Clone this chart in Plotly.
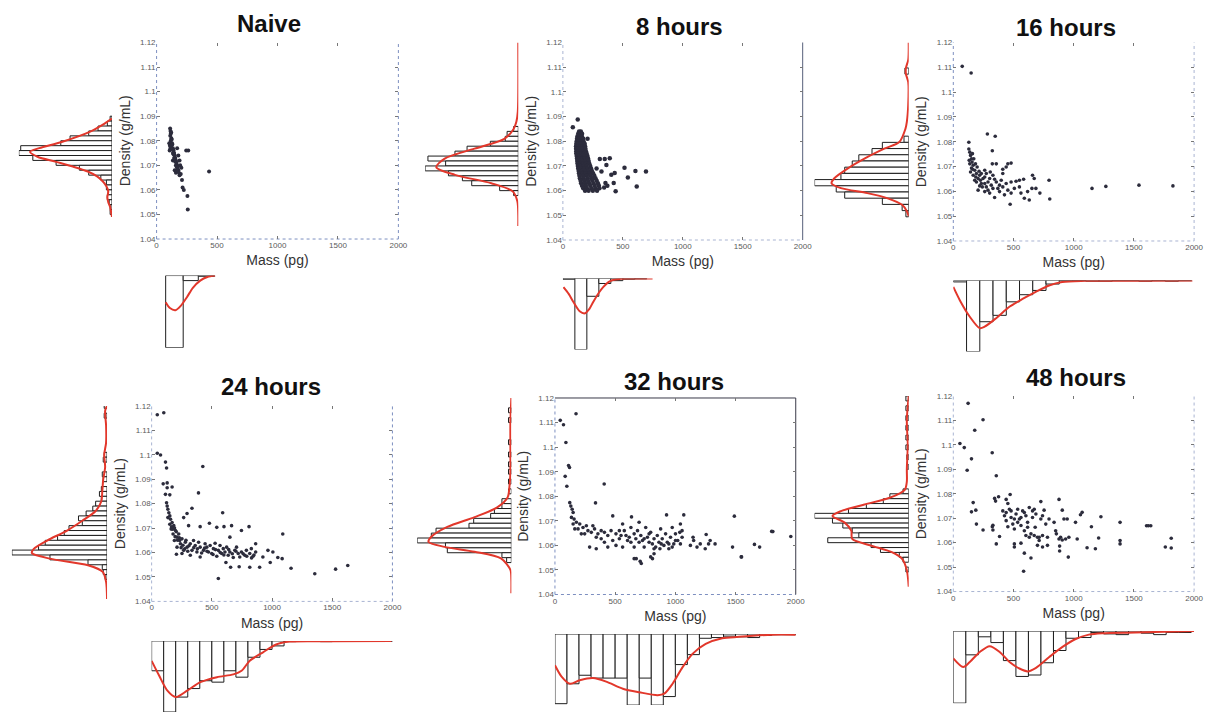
import plotly.graph_objects as go

W, H = 1215, 718

# ---------------------------------------------------------------------------
# Single-cell measurements: (buoyant mass in pg, density in g/mL)
# ---------------------------------------------------------------------------
naive_points = [
    (112, 1.085), (115, 1.084), (118, 1.083), (120, 1.0835), (113, 1.082), (122, 1.081),
    (117, 1.080), (125, 1.0805), (128, 1.079), (105, 1.079), (110, 1.078), (120, 1.078),
    (130, 1.0785), (135, 1.077), (125, 1.077), (115, 1.077), (170, 1.077), (140, 1.076),
    (130, 1.0765), (108, 1.076), (145, 1.075), (135, 1.075), (150, 1.074), (140, 1.0745),
    (180, 1.074), (155, 1.073), (145, 1.073), (160, 1.072), (150, 1.0725), (135, 1.072),
    (190, 1.072), (165, 1.071), (155, 1.0715), (170, 1.070), (160, 1.070), (195, 1.070),
    (175, 1.069), (165, 1.0695), (205, 1.069), (180, 1.068), (170, 1.0685), (150, 1.068),
    (185, 1.067), (160, 1.067), (190, 1.066), (200, 1.0665), (210, 1.064), (215, 1.061),
    (225, 1.060), (255, 1.0575), (258, 1.052), (245, 1.076), (262, 1.076), (434, 1.0675),
]

h8_points = [
    (135, 1.084), (150, 1.084),
    (128, 1.083), (145, 1.083), (160, 1.083),
    (122, 1.082), (140, 1.082), (158, 1.082),
    (118, 1.081), (135, 1.081), (155, 1.081), (170, 1.081),
    (115, 1.080), (132, 1.080), (150, 1.080), (172, 1.080),
    (112, 1.079), (130, 1.079), (148, 1.079), (168, 1.079), (182, 1.079),
    (110, 1.078), (128, 1.078), (146, 1.078), (165, 1.078), (185, 1.078),
    (110, 1.077), (128, 1.077), (146, 1.077), (165, 1.077), (188, 1.077),
    (112, 1.076), (130, 1.076), (150, 1.076), (170, 1.076), (192, 1.076),
    (112, 1.075), (132, 1.075), (152, 1.075), (175, 1.075), (198, 1.075),
    (115, 1.074), (135, 1.074), (155, 1.074), (178, 1.074), (205, 1.074),
    (118, 1.073), (138, 1.073), (160, 1.073), (182, 1.073), (210, 1.073),
    (120, 1.072), (142, 1.072), (165, 1.072), (188, 1.072), (215, 1.072),
    (122, 1.071), (145, 1.071), (168, 1.071), (192, 1.071), (220, 1.071),
    (125, 1.070), (148, 1.070), (172, 1.070), (198, 1.070), (228, 1.070),
    (128, 1.069), (152, 1.069), (178, 1.069), (205, 1.069), (235, 1.069),
    (132, 1.068), (158, 1.068), (185, 1.068), (212, 1.068), (242, 1.068),
    (135, 1.067), (162, 1.067), (190, 1.067), (220, 1.067), (252, 1.067),
    (138, 1.066), (168, 1.066), (198, 1.066), (228, 1.066), (262, 1.066),
    (142, 1.065), (172, 1.065), (205, 1.065), (238, 1.065), (272, 1.065),
    (148, 1.064), (178, 1.064), (210, 1.064), (245, 1.064), (282, 1.064),
    (152, 1.063), (185, 1.063), (218, 1.063), (255, 1.063), (292, 1.063),
    (160, 1.062), (192, 1.062), (228, 1.062), (265, 1.062), (300, 1.062),
    (170, 1.061), (200, 1.061), (238, 1.061), (272, 1.061), (305, 1.061),
    (185, 1.060), (215, 1.060), (250, 1.060), (285, 1.060),
    (83, 1.0857), (124, 1.0888), (206, 1.081), (281, 1.069), (308, 1.0728), (349, 1.0728),
    (391, 1.0731), (363, 1.0704), (322, 1.0677), (253, 1.065), (404, 1.0664), (432, 1.0671),
    (514, 1.0693), (542, 1.0653), (605, 1.068), (693, 1.0677), (616, 1.0617), (371, 1.062),
    (440, 1.0597), (344, 1.0613), (424, 1.0631), (355, 1.0631),
]

h16_points = [
    (74, 1.1104), (148, 1.1077), (283, 1.0831), (348, 1.0822), (129, 1.0798), (324, 1.0764),
    (129, 1.0771), (137, 1.0758), (143, 1.0745), (151, 1.0731), (132, 1.0725), (156, 1.0718),
    (137, 1.0711), (165, 1.0705), (151, 1.0694), (178, 1.0685), (143, 1.0678), (192, 1.0672),
    (165, 1.0665), (219, 1.0665), (261, 1.0685), (274, 1.0672), (206, 1.0652), (247, 1.0652),
    (178, 1.0645), (302, 1.0652), (329, 1.0665), (288, 1.0638), (233, 1.0632), (357, 1.0638),
    (398, 1.0645), (206, 1.0605), (274, 1.0618), (329, 1.0612), (384, 1.0625), (439, 1.0632),
    (480, 1.0638), (521, 1.0641), (549, 1.0645), (584, 1.0649), (658, 1.0665), (672, 1.0652),
    (795, 1.0645), (357, 1.0711), (411, 1.0689), (453, 1.0711), (480, 1.0714), (439, 1.0698),
    (324, 1.0711), (411, 1.0672), (261, 1.0599), (302, 1.0593), (343, 1.0575), (384, 1.0599),
    (425, 1.0586), (453, 1.0605), (480, 1.0593), (472, 1.0548), (507, 1.0612), (549, 1.0618),
    (562, 1.0593), (590, 1.0572), (617, 1.0599), (631, 1.0565), (653, 1.0612), (686, 1.0612),
    (719, 1.0593), (801, 1.0569), (1152, 1.0612), (1267, 1.062), (1542, 1.0625), (1824, 1.0622),
    (159, 1.0752), (170, 1.0731), (184, 1.0711), (198, 1.0698), (159, 1.0689), (214, 1.0681),
    (233, 1.0672), (187, 1.0658), (261, 1.0658), (225, 1.0645), (307, 1.0678), (343, 1.0649),
    (261, 1.0632), (315, 1.0625), (241, 1.0618), (370, 1.0612), (411, 1.0618), (288, 1.0605),
    (192, 1.0638), (219, 1.0622),
]

h24_points = [
    (47, 1.1164), (101, 1.1172), (47, 1.1006), (74, 1.0999), (115, 1.0970), (124, 1.0946),
    (425, 1.0952), (96, 1.0881), (129, 1.0885), (170, 1.0868), (129, 1.0865), (389, 1.0844),
    (115, 1.0838), (151, 1.0836),
    (124, 1.0804), (129, 1.0790), (135, 1.0777), (143, 1.0763), (151, 1.0750), (157, 1.0736),
    (135, 1.0743), (170, 1.0723), (151, 1.0716), (184, 1.0710), (162, 1.0696), (198, 1.0690),
    (178, 1.0676), (225, 1.0676), (211, 1.0663), (252, 1.0656), (189, 1.0649), (280, 1.0642),
    (239, 1.0636), (321, 1.0636), (211, 1.0622), (294, 1.0622), (362, 1.0629), (266, 1.0609),
    (335, 1.0609), (403, 1.0622), (444, 1.0636), (486, 1.0629), (527, 1.0638), (568, 1.0629),
    (376, 1.0602), (431, 1.0609), (472, 1.0602), (513, 1.0616), (554, 1.0609), (595, 1.0616),
    (623, 1.0622), (650, 1.0602), (691, 1.0609), (719, 1.0596), (746, 1.0602), (774, 1.0589),
    (815, 1.0596), (842, 1.0585), (864, 1.0602), (321, 1.0589), (403, 1.0582), (541, 1.0585),
    (678, 1.0580), (206, 1.0593), (252, 1.0596),
    (294, 1.0760), (335, 1.0781), (266, 1.0743), (307, 1.0710), (403, 1.0706), (480, 1.0720),
    (541, 1.0703), (601, 1.0706), (664, 1.0710), (590, 1.0763), (809, 1.0706), (746, 1.0690),
    (650, 1.0663), (1089, 1.0676), (864, 1.0636), (966, 1.0609), (1007, 1.0602), (924, 1.0582),
    (1048, 1.0580), (985, 1.0559), (1084, 1.0575), (617, 1.0559), (727, 1.0542), (815, 1.0540),
    (897, 1.0540), (1158, 1.0536), (656, 1.0540), (1355, 1.0513), (1528, 1.0532), (1629, 1.0547),
    (554, 1.0494),
    (233, 1.0649), (348, 1.0649), (390, 1.0642), (458, 1.0622), (499, 1.0596), (582, 1.0596),
    (636, 1.0589), (705, 1.0622), (787, 1.0609), (828, 1.0616), (732, 1.0582), (609, 1.0602),
    (195, 1.0665), (215, 1.0650), (230, 1.0660), (260, 1.0630), (245, 1.0620), (275, 1.0615),
    (300, 1.0605), (310, 1.0628), (285, 1.0650), (190, 1.0700), (205, 1.0685), (175, 1.0695),
    (165, 1.0705), (350, 1.0620), (380, 1.0615), (415, 1.0598), (440, 1.0618), (460, 1.0605),
    (510, 1.0592), (530, 1.0612), (570, 1.0600), (600, 1.0590), (640, 1.0612), (670, 1.0595),
    (700, 1.0605), (760, 1.0595), (790, 1.0585), (850, 1.0590), (830, 1.0578),
]

h32_points = [
    (44, 1.1109), (71, 1.1091), (175, 1.1136), (91, 1.1019), (113, 1.0925), (121, 1.0917),
    (85, 1.0881), (99, 1.0841), (409, 1.0850), (337, 1.0773), (1490, 1.0719), (1959, 1.0636),
    (1800, 1.0657), (1657, 1.0604), (1700, 1.0593), (1475, 1.0593), (1547, 1.0553),
    (708, 1.0535), (675, 1.0546), (810, 1.0546), (717, 1.0526),
    (123, 1.0774), (132, 1.0760), (143, 1.0747), (151, 1.0734), (137, 1.0714), (159, 1.0707),
    (178, 1.0694), (151, 1.0687), (206, 1.0687), (233, 1.0673), (192, 1.0667), (261, 1.0680),
    (274, 1.0660), (219, 1.0647), (302, 1.0653), (329, 1.0667), (357, 1.0647), (343, 1.0633),
    (384, 1.0627), (411, 1.0653), (439, 1.0640), (480, 1.0720), (466, 1.0660), (507, 1.0647),
    (535, 1.0627), (562, 1.0687), (576, 1.0660), (590, 1.0640), (603, 1.0620), (631, 1.0673),
    (636, 1.0716), (658, 1.0647), (672, 1.0627), (686, 1.0660), (699, 1.0694), (713, 1.0640),
    (727, 1.0620), (754, 1.0673), (768, 1.0633), (782, 1.0613), (795, 1.0653), (809, 1.0606),
    (823, 1.0627), (837, 1.0593), (850, 1.0640), (864, 1.0613), (878, 1.0667), (891, 1.0627),
    (905, 1.0600), (919, 1.0647), (927, 1.0724), (933, 1.0613), (946, 1.0586), (960, 1.0633),
    (974, 1.0673), (987, 1.0606), (1001, 1.0647), (1020, 1.0620), (1037, 1.0653), (1042, 1.0687),
    (1056, 1.0633), (1070, 1.0724), (741, 1.0593), (823, 1.0566), (658, 1.0546), (795, 1.0553),
    (288, 1.0593), (343, 1.0586), (439, 1.0593), (507, 1.0600), (562, 1.0593), (658, 1.0593),
    (1125, 1.0600), (1152, 1.0620), (1180, 1.0593), (1207, 1.0606), (1248, 1.0586), (1256, 1.0644),
    (1276, 1.0606), (1289, 1.0620), (1330, 1.0606), (1147, 1.0633), (1550, 1.0553), (1810, 1.0656),
    (165, 1.0667), (247, 1.0647), (315, 1.0680), (384, 1.0660), (411, 1.0613), (480, 1.0620),
    (535, 1.0660), (549, 1.0640), (617, 1.0633), (631, 1.0613), (699, 1.0613), (741, 1.0627),
    (782, 1.0647), (823, 1.0586), (872, 1.0586), (883, 1.0606), (946, 1.0606), (974, 1.0593),
    (1001, 1.0620), (1042, 1.0606), (1056, 1.0660),
]

h48_points = [
    (123, 1.1170), (247, 1.1103), (178, 1.1060), (55, 1.1006), (91, 1.0989), (151, 1.0943),
    (323, 1.0968), (115, 1.0896), (357, 1.0874),
    (165, 1.0764), (151, 1.0726), (187, 1.0733), (192, 1.0676), (247, 1.0652), (324, 1.0665),
    (329, 1.0652), (343, 1.0781), (376, 1.0788), (384, 1.0625), (357, 1.0595), (439, 1.0777),
    (472, 1.0797), (453, 1.0760), (411, 1.0730), (425, 1.0710), (439, 1.0690), (453, 1.0665),
    (466, 1.0737), (480, 1.0703), (494, 1.0676), (507, 1.0656), (521, 1.0717), (535, 1.0737),
    (549, 1.0697), (562, 1.0670), (576, 1.0730), (590, 1.0649), (603, 1.0710), (617, 1.0683),
    (631, 1.0744), (645, 1.0636), (658, 1.0703), (672, 1.0737), (680, 1.0663), (699, 1.0622),
    (727, 1.0768), (741, 1.0710), (754, 1.0733), (768, 1.0676), (782, 1.0622), (713, 1.0609),
    (795, 1.0697), (837, 1.0683), (850, 1.0649), (878, 1.0777), (905, 1.0733), (891, 1.0622),
    (919, 1.0697), (933, 1.0615), (960, 1.0622), (955, 1.0541), (946, 1.0697), (1029, 1.0615),
    (1015, 1.0683), (1056, 1.0714), (1070, 1.0724), (1111, 1.0579), (1147, 1.0665), (1180, 1.0575),
    (1207, 1.0619), (1226, 1.0706), (1385, 1.0683), (1385, 1.0609), (1385, 1.0595), (1605, 1.0669),
    (1620, 1.0669), (1640, 1.0669), (1810, 1.0618), (1761, 1.0582), (1810, 1.0578), (507, 1.0595),
    (507, 1.0582), (562, 1.0598), (590, 1.0557), (645, 1.0537), (699, 1.0589), (741, 1.0582),
    (782, 1.0589), (883, 1.0586), (883, 1.0566), (584, 1.0483), (351, 1.0770), (329, 1.0671),
    (439, 1.0723), (480, 1.0730), (507, 1.0697), (535, 1.0683), (562, 1.0703), (590, 1.0723),
    (617, 1.0663), (658, 1.0730), (686, 1.0717), (727, 1.0697), (603, 1.0629), (631, 1.0622),
    (672, 1.0629), (713, 1.0622), (741, 1.0629), (878, 1.0615), (905, 1.0611), (856, 1.0636),
]

# ---------------------------------------------------------------------------
# Density histograms (bin centres, relative counts) and smoothed estimates
# ---------------------------------------------------------------------------
naive_dens_bins = [1.089, 1.087, 1.085, 1.083, 1.081, 1.079, 1.077, 1.075, 1.073, 1.071,
                   1.069, 1.067, 1.065, 1.063, 1.061, 1.059, 1.057, 1.055, 1.053, 1.051]
naive_dens_counts = [0.02, 0.05, 0.15, 0.25, 0.45, 0.55, 0.98, 1.0, 0.85, 0.6,
                     0.35, 0.25, 0.12, 0.06, 0.06, 0.04, 0.05, 0.03, 0.02, 0.02]
naive_dens_curve = [(1.089, 0), (1.087, 0.08), (1.0836, 0.24), (1.0795, 0.54), (1.077, 0.78),
                    (1.0755, 0.88), (1.0735, 0.80), (1.0715, 0.61), (1.0695, 0.42), (1.0675, 0.26),
                    (1.0655, 0.16), (1.0635, 0.10), (1.0615, 0.06), (1.0594, 0.04), (1.057, 0.05),
                    (1.055, 0.04), (1.053, 0.02), (1.051, 0.01), (1.049, 0)]

h8_dens_bins = [1.085, 1.083, 1.081, 1.079, 1.077, 1.075, 1.073, 1.071, 1.069, 1.067,
                1.065, 1.063, 1.061, 1.059]
h8_dens_counts = [0.05, 0.12, 0.14, 0.3, 0.55, 0.68, 0.97, 0.78, 1.0, 0.75,
                  0.6, 0.5, 0.2, 0.05]
h8_dens_curve = [(1.12, 0), (1.10, 0), (1.092, 0.005), (1.088, 0.02), (1.085, 0.05),
                 (1.081, 0.15), (1.077, 0.47), (1.073, 0.79), (1.0695, 0.88), (1.0664, 0.68),
                 (1.063, 0.29), (1.0597, 0.06), (1.0557, 0.01), (1.05, 0), (1.0457, 0)]

h16_dens_bins = [1.1085, 1.0810, 1.0785, 1.0760, 1.0735, 1.0710, 1.0685, 1.0660, 1.0635,
                 1.0610, 1.0585, 1.0560, 1.0535, 1.0510]
h16_dens_counts = [0.04, 0.05, 0.28, 0.39, 0.53, 0.60, 0.68, 0.72, 1.0,
                   0.77, 0.68, 0.28, 0.07, 0.03]
h16_dens_curve = [(1.12, 0), (1.113, 0.005), (1.1097, 0.03), (1.1074, 0.03), (1.104, 0.005),
                  (1.095, 0.005), (1.088, 0.02), (1.0852, 0.035), (1.0799, 0.1), (1.0772, 0.26),
                  (1.0732, 0.47), (1.0692, 0.65), (1.0653, 0.79), (1.0633, 0.82), (1.0613, 0.72),
                  (1.0593, 0.44), (1.0573, 0.23), (1.0546, 0.07), (1.052, 0.02), (1.050, 0)]

h24_dens_bins = [1.120, 1.116, 1.100, 1.098, 1.092, 1.090, 1.086, 1.084, 1.082, 1.080,
                 1.078, 1.076, 1.074, 1.072, 1.070, 1.068, 1.066, 1.064, 1.062, 1.060,
                 1.058, 1.056, 1.054, 1.052, 1.050]
h24_dens_counts = [0.03, 0.03, 0.03, 0.04, 0.05, 0.04, 0.06, 0.08, 0.06, 0.12,
                   0.15, 0.22, 0.3, 0.26, 0.4, 0.45, 0.52, 0.65, 0.72, 1.0,
                   0.6, 0.2, 0.05, 0.04, 0.02]
h24_dens_curve = [(1.12, 0), (1.118, 0.02), (1.112, 0.01), (1.105, 0.01), (1.100, 0.03),
                  (1.095, 0.02), (1.09, 0.04), (1.085, 0.05), (1.081, 0.06), (1.077, 0.12),
                  (1.073, 0.26), (1.069, 0.42), (1.0649, 0.63), (1.0615, 0.77), (1.0598, 0.79),
                  (1.0575, 0.6), (1.0548, 0.2), (1.0521, 0.045), (1.048, 0.01), (1.041, 0)]

h32_dens_bins = [1.115, 1.111, 1.102, 1.097, 1.093, 1.090, 1.086, 1.082, 1.078, 1.076,
                 1.074, 1.072, 1.070, 1.068, 1.066, 1.064, 1.062, 1.060, 1.058, 1.056, 1.054]
h32_dens_counts = [0.03, 0.03, 0.03, 0.03, 0.03, 0.03, 0.03, 0.03, 0.1, 0.1,
                   0.18, 0.22, 0.4, 0.45, 0.8, 0.85, 1.0, 0.7, 0.68, 0.1, 0.05]
h32_dens_curve = [(1.12, 0), (1.11, 0.01), (1.10, 0.01), (1.09, 0.01), (1.084, 0.02),
                  (1.0795, 0.04), (1.0755, 0.15), (1.0715, 0.39), (1.0675, 0.68), (1.0635, 0.85),
                  (1.0614, 0.88), (1.0594, 0.71), (1.0574, 0.39), (1.0547, 0.11), (1.050, 0.01),
                  (1.046, 0), (1.0405, 0)]

h48_dens_bins = [1.119, 1.115, 1.111, 1.107, 1.103, 1.099, 1.095, 1.091, 1.081, 1.079,
                 1.077, 1.075, 1.073, 1.071, 1.069, 1.067, 1.065, 1.063, 1.061, 1.059,
                 1.057, 1.055, 1.053, 1.049]
h48_dens_counts = [0.03, 0.03, 0.03, 0.03, 0.03, 0.03, 0.02, 0.02, 0.06, 0.2,
                   0.27, 0.45, 0.64, 1.0, 0.81, 0.7, 0.6, 0.53, 0.86, 0.4,
                   0.3, 0.1, 0.06, 0.03]
h48_dens_curve = [(1.12, 0), (1.11, 0.02), (1.10, 0.01), (1.09, 0.02), (1.085, 0.02),
                  (1.0817, 0.04), (1.0803, 0.09), (1.0783, 0.21), (1.0756, 0.47), (1.0729, 0.72),
                  (1.0709, 0.81), (1.0682, 0.68), (1.0649, 0.61), (1.0615, 0.6), (1.0588, 0.4),
                  (1.0561, 0.18), (1.0534, 0.07), (1.0487, 0.02), (1.042, 0)]

# ---------------------------------------------------------------------------
# Mass histograms (bin edges, relative counts) and smoothed estimates
# ---------------------------------------------------------------------------
naive_mass_edges = [75, 220, 345, 480]
naive_mass_counts = [1.0, 0.07, 0.01]
naive_mass_curve = [(75, 0.37), (110, 0.45), (156, 0.48), (200, 0.42), (251, 0.30),
                    (300, 0.17), (361, 0.07), (420, 0.02), (484, 0)]

h8_mass_edges = [0, 100, 200, 300, 400, 500, 600, 700]
h8_mass_counts = [0.01, 1.0, 0.25, 0.07, 0.03, 0.01, 0.005]
h8_mass_curve = [(5, 0.12), (50, 0.22), (88, 0.33), (140, 0.46), (184, 0.49), (220, 0.43),
                 (253, 0.33), (300, 0.2), (336, 0.12), (380, 0.05), (418, 0.02), (480, 0.005),
                 (528, 0), (748, 0)]

h16_mass_edges = [0, 110, 220, 330, 440, 550, 660, 770, 880, 990, 1100, 1210, 1320, 1430,
                  1540, 1650, 1760, 1870, 1980]
h16_mass_counts = [0.02, 1.0, 0.58, 0.49, 0.30, 0.20, 0.14, 0.05, 0.005, 0.003, 0.01, 0.01,
                   0.003, 0.003, 0.01, 0.003, 0.01, 0.003]
h16_mass_curve = [(0, 0.09), (55, 0.28), (137, 0.51), (219, 0.67), (260, 0.65), (356, 0.53),
                  (466, 0.37), (575, 0.26), (685, 0.16), (795, 0.07), (904, 0.02), (1096, 0.005),
                  (1507, 0.003), (1986, 0)]

h24_mass_edges = [0, 100, 200, 300, 400, 500, 600, 700, 800, 900, 1000, 1100, 1200, 1300,
                  1400, 1500, 1600, 1700, 1800, 1900, 2000]
h24_mass_counts = [0.42, 1.0, 0.79, 0.67, 0.56, 0.58, 0.42, 0.51, 0.23, 0.12, 0.07, 0.01,
                   0.005, 0.005, 0.01, 0.005, 0.005, 0.005, 0.005, 0.005]
h24_mass_curve = [(0, 0.28), (63, 0.49), (131, 0.70), (200, 0.79), (295, 0.70), (405, 0.58),
                  (542, 0.51), (679, 0.47), (747, 0.42), (815, 0.28), (925, 0.16), (1034, 0.05),
                  (1144, 0.01), (1500, 0.005), (1992, 0)]

h32_mass_edges = [0, 100, 200, 300, 400, 500, 600, 700, 800, 900, 1000, 1100, 1200, 1300,
                  1400, 1500, 1600, 1700, 1800, 1900, 2000]
h32_mass_counts = [0.98, 0.70, 0.58, 0.62, 0.62, 0.62, 1.0, 0.62, 1.0, 0.88, 0.43, 0.29,
                   0.06, 0.05, 0.03, 0.04, 0.05, 0.02, 0.01, 0.01]
h32_mass_curve = [(0, 0.44), (55, 0.60), (124, 0.70), (206, 0.65), (316, 0.62), (426, 0.67),
                  (564, 0.77), (702, 0.82), (853, 0.86), (908, 0.84), (977, 0.70), (1059, 0.47),
                  (1142, 0.28), (1252, 0.14), (1389, 0.06), (1527, 0.04), (1802, 0.01), (2000, 0.01)]

h48_mass_edges = [0, 104, 208, 312, 416, 520, 624, 728, 832, 936, 1040, 1144, 1248, 1352,
                  1456, 1560, 1664, 1768, 1872, 1976]
h48_mass_counts = [1.0, 0.33, 0.08, 0.16, 0.41, 0.63, 0.61, 0.44, 0.27, 0.10, 0.09, 0.02,
                   0.04, 0.05, 0.02, 0.03, 0.05, 0.02, 0.02]
h48_mass_curve = [(0, 0.38), (82, 0.50), (137, 0.43), (220, 0.29), (302, 0.21), (385, 0.29),
                  (467, 0.43), (549, 0.52), (618, 0.56), (687, 0.51), (797, 0.36), (907, 0.22),
                  (1016, 0.11), (1126, 0.05), (1236, 0.03), (1511, 0.02), (2000, 0)]

titles = ["Naive", "8 hours", "16 hours", "24 hours", "32 hours", "48 hours"]
mass_ticks = [0, 500, 1000, 1500, 2000]
dens_ticks = [1.04, 1.05, 1.06, 1.07, 1.08, 1.09, 1.10, 1.11, 1.12]
dens_tick_text = ["1.04", "1.05", "1.06", "1.07", "1.08", "1.09", "1.1", "1.11", "1.12"]

datasets = [
    (naive_points, naive_dens_bins, naive_dens_counts, 0.002, naive_dens_curve,
     naive_mass_edges, naive_mass_counts, naive_mass_curve),
    (h8_points, h8_dens_bins, h8_dens_counts, 0.002, h8_dens_curve,
     h8_mass_edges, h8_mass_counts, h8_mass_curve),
    (h16_points, h16_dens_bins, h16_dens_counts, 0.0025, h16_dens_curve,
     h16_mass_edges, h16_mass_counts, h16_mass_curve),
    (h24_points, h24_dens_bins, h24_dens_counts, 0.002, h24_dens_curve,
     h24_mass_edges, h24_mass_counts, h24_mass_curve),
    (h32_points, h32_dens_bins, h32_dens_counts, 0.002, h32_dens_curve,
     h32_mass_edges, h32_mass_counts, h32_mass_curve),
    (h48_points, h48_dens_bins, h48_dens_counts, 0.002, h48_dens_curve,
     h48_mass_edges, h48_mass_counts, h48_mass_curve),
]

# Panel placement in pixels: scatter box (left, right, top, bottom),
# density-histogram strip (left, right), mass-histogram strip (top, bottom), title centre
FAINT = "#a9b4d2"
BLUE = "#7d8fc0"
DARK = "#3a3a48"
layout_px = [
    dict(sc=(156, 400, 39, 238), lh=(17, 111), bh=(275, 348), title=(269, 20),
         frame=dict(left=("dot", BLUE), bottom=("dot", BLUE), right=("dot", BLUE)), msize=4),
    dict(sc=(566, 808, 39, 239), lh=(427, 521), bh=(278, 350), title=(684, 23),
         frame=dict(left=("dot", FAINT), bottom=("dot", FAINT), right=("solid", "#56607a")), msize=4.5),
    dict(sc=(960, 1203, 39, 240), lh=(820, 915), bh=(280, 352), title=(1074, 24),
         frame=dict(left=("dot", BLUE), bottom=("dot", FAINT), right=("dot", FAINT)), msize=3.6),
    dict(sc=(151, 394, 407, 605), lh=(10, 106), bh=(645, 717), title=(271, 387),
         frame=dict(left=("dot", FAINT), bottom=("dot", FAINT), right=("dot", BLUE)), msize=3.6),
    dict(sc=(558, 801, 399, 598), lh=(419, 514), bh=(638, 710), title=(678, 382),
         frame=dict(left=("dot", BLUE), bottom=("dot", BLUE), right=("solid", DARK),
                    top=("solid", DARK)), msize=3.6),
    dict(sc=(960, 1203, 397, 595), lh=(820, 915), bh=(635, 708), title=(1084, 378),
         frame=dict(left=("dot", FAINT), bottom=("dot", FAINT), right=("dot", FAINT)), msize=3.6),
]

RED = "#e2372b"
DOT = "#2c2c3c"
FONT = "Liberation Sans, Arial, sans-serif"


def px_x(v):
    return v / W


def px_y(v):
    return 1 - v / H


def axname(kind, n):
    return kind if n == 1 else f"{kind}{n}"


fig = go.Figure()
shapes = []
annotations = []
layout_axes = {}

for i, (data, geo) in enumerate(zip(datasets, layout_px)):
    pts, dbins, dcounts, dwidth, dcurve, medges, mcounts, mcurve = data
    a, b, c = 3 * i + 1, 3 * i + 2, 3 * i + 3
    sx0, sx1, sy0, sy1 = geo["sc"]
    lx0, lx1 = geo["lh"]
    by0, by1 = geo["bh"]

    # scatter of single cells
    fig.add_trace(go.Scatter(
        x=[p[0] for p in pts], y=[p[1] for p in pts], mode="markers",
        marker=dict(size=geo["msize"], color=DOT, line=dict(width=0)),
        xaxis=axname("x", a), yaxis=axname("y", a), showlegend=False, hoverinfo="skip"))

    # density histogram, growing leftwards from its baseline
    fig.add_trace(go.Bar(
        x=dcounts, y=dbins, orientation="h", width=dwidth,
        marker=dict(color="white", line=dict(color="#1e1e1e", width=1)),
        xaxis=axname("x", b), yaxis=axname("y", b), showlegend=False, cliponaxis=False))
    fig.add_trace(go.Scatter(
        x=[q[1] for q in dcurve], y=[q[0] for q in dcurve], mode="lines",
        line=dict(color=RED, width=2, shape="spline", smoothing=0.8),
        xaxis=axname("x", b), yaxis=axname("y", b), showlegend=False, cliponaxis=False))

    # mass histogram, hanging below its baseline
    centres = [(lo + hi) / 2 for lo, hi in zip(medges[:-1], medges[1:])]
    widths = [hi - lo for lo, hi in zip(medges[:-1], medges[1:])]
    fig.add_trace(go.Bar(
        x=centres, y=mcounts, width=widths,
        marker=dict(color="white", line=dict(color="#1e1e1e", width=1)),
        xaxis=axname("x", c), yaxis=axname("y", c), showlegend=False, cliponaxis=False))
    fig.add_trace(go.Scatter(
        x=[q[0] for q in mcurve], y=[q[1] for q in mcurve], mode="lines",
        line=dict(color=RED, width=2, shape="spline", smoothing=0.8),
        xaxis=axname("x", c), yaxis=axname("y", c), showlegend=False, cliponaxis=False))

    sc_xdom = [px_x(sx0), px_x(sx1)]
    sc_ydom = [px_y(sy1), px_y(sy0)]

    layout_axes[f"xaxis{'' if a == 1 else a}"] = dict(
        domain=sc_xdom, anchor=axname("y", a), range=[0, 2000],
        tickvals=mass_ticks, ticks="inside", ticklen=3, tickcolor="#777", mirror="ticks",
        tickfont=dict(size=8, color="#5a5a5a", family=FONT), showgrid=False, zeroline=False,
        showline=False,
        title=dict(text="Mass (pg)", font=dict(size=14, color="#333", family=FONT), standoff=6))
    layout_axes[f"yaxis{'' if a == 1 else a}"] = dict(
        domain=sc_ydom, anchor=axname("x", a), range=[1.04, 1.12],
        tickvals=dens_ticks, ticktext=dens_tick_text, ticks="inside", ticklen=3,
        tickcolor="#777", mirror="ticks",
        tickfont=dict(size=8, color="#5a5a5a", family=FONT), showgrid=False, zeroline=False,
        showline=False,
        title=dict(text="Density (g/mL)", font=dict(size=14, color="#333", family=FONT),
                   standoff=6))

    layout_axes[f"xaxis{b}"] = dict(domain=[px_x(lx0), px_x(lx1)], anchor=axname("y", b),
                                    range=[1.0, 0], visible=False)
    layout_axes[f"yaxis{b}"] = dict(domain=sc_ydom, anchor=axname("x", b),
                                    range=[1.04, 1.12], visible=False)
    layout_axes[f"xaxis{c}"] = dict(domain=sc_xdom, anchor=axname("y", c),
                                    range=[0, 2000], visible=False)
    layout_axes[f"yaxis{c}"] = dict(domain=[px_y(by1), px_y(by0)], anchor=axname("x", c),
                                    range=[1.0, 0], visible=False)

    # frame lines of the scatter box
    xr = f"{axname('x', a)} domain"
    yr = f"{axname('y', a)} domain"
    ends = dict(left=(0, 0, 0, 1), right=(1, 0, 1, 1), bottom=(0, 0, 1, 0), top=(0, 1, 1, 1))
    for side, (dash, col) in geo["frame"].items():
        x0, y0, x1, y1 = ends[side]
        shapes.append(dict(type="line", xref=xr, yref=yr, x0=x0, y0=y0, x1=x1, y1=y1,
                           line=dict(color=col, width=1, dash=dash), layer="below"))

    tx, ty = geo["title"]
    annotations.append(dict(text=f"<b>{titles[i]}</b>", x=px_x(tx), y=px_y(ty),
                            xref="paper", yref="paper", xanchor="center", yanchor="middle",
                            showarrow=False, font=dict(size=24, color="#111", family=FONT)))

fig.update_layout(
    width=W, height=H, autosize=False,
    margin=dict(l=0, r=0, t=0, b=0),
    paper_bgcolor="white", plot_bgcolor="white",
    showlegend=False, barmode="overlay",
    shapes=shapes, annotations=annotations,
    **layout_axes,
)

fig.write_html("out.html")
